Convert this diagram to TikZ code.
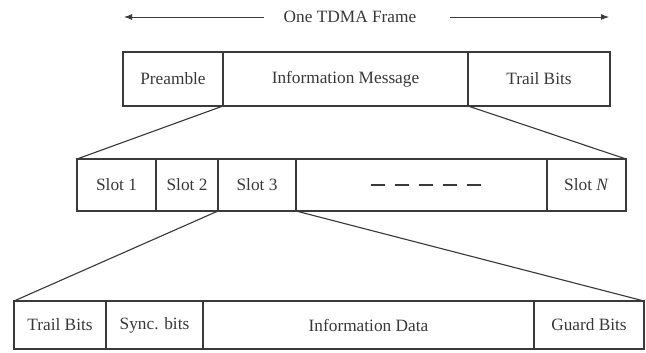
\documentclass[tikz,border=0pt]{standalone}
\usepackage{fontspec}
\setmainfont{Liberation Serif}
\usepackage{tikz}
\usetikzlibrary{arrows.meta, positioning, calc}
\definecolor{lineGray}{HTML}{3A3A3A}
\definecolor{textGray}{HTML}{383838}
\tikzset{
  cell/.style={draw=lineGray, line width=0.8pt, inner sep=0pt, outer sep=0pt,
    text=textGray, font=\fontsize{12.3}{14}\selectfont},
  fan/.style={draw=lineGray, line width=0.8pt},
  span/.style={draw=lineGray, line width=0.7pt, -{Latex[length=2mm, width=1.5mm]}}
}

\begin{document}
\begin{tikzpicture}
  \useasboundingbox (0,0) rectangle (16.15,8.8);

  % Frame span
  \node[text=textGray, font=\fontsize{12.3}{14}\selectfont] (title) at (8.75,8.375) {One TDMA Frame};
  \coordinate (spanL) at (3.1,8.375);
  \coordinate (spanR) at (15.225,8.375);
  \draw[span, shorten <=0.38cm] (title.west) -- (spanL);
  \draw[span, shorten <=0.71cm] (title.east) -- (spanR);

  % TDMA frame
  \node[cell, minimum width=2.5cm, minimum height=1.35cm] (pre) at (4.325,6.825) {Preamble};
  \node[cell, minimum width=6.125cm, minimum height=1.35cm] (info) at (8.6375,6.825) {Information Message};
  \node[cell, minimum width=3.55cm, minimum height=1.35cm] (trail) at (13.475,6.825) {Trail Bits};

  % Slots
  \node[cell, minimum width=1.975cm, minimum height=1.3cm] (slot1) at (2.9125,4.175) {Slot 1};
  \node[cell, minimum width=1.55cm, minimum height=1.3cm] (slot2) at (4.675,4.175) {Slot 2};
  \node[cell, minimum width=1.95cm, minimum height=1.3cm] (slot3) at (6.425,4.175) {Slot 3};
  \node[cell, minimum width=6.275cm, minimum height=1.3cm] (dots) at (10.5375,4.175) {};
  \node[cell, minimum width=1.975cm, minimum height=1.3cm] (slotN) at (14.6625,4.175) {Slot \textit{N}};
  \draw[lineGray, line width=0.8pt, dash pattern=on 0.35cm off 0.25cm]
    ([xshift=-1.26cm]dots.center) -- ([xshift=1.49cm]dots.center);

  % Slot content
  \node[cell, minimum width=2.3cm, minimum height=1.2cm] (tbits) at (1.5,0.675) {Trail Bits};
  \node[cell, minimum width=2.425cm, minimum height=1.2cm] (sync) at (3.8625,0.675) {Sync. bits};
  \node[cell, minimum width=8.275cm, minimum height=1.2cm] (data) at (9.2125,0.675) {Information Data};
  \node[cell, minimum width=2.75cm, minimum height=1.2cm] (guard) at (14.725,0.675) {Guard Bits};

  % Expansion lines
  \draw[fan] (pre.south east) -- (slot1.north west);
  \draw[fan] (info.south east) -- (slotN.north east);
  \draw[fan] (slot2.south east) -- (tbits.north west);
  \draw[fan] (slot3.south east) -- (guard.north east);
\end{tikzpicture}
\end{document}
